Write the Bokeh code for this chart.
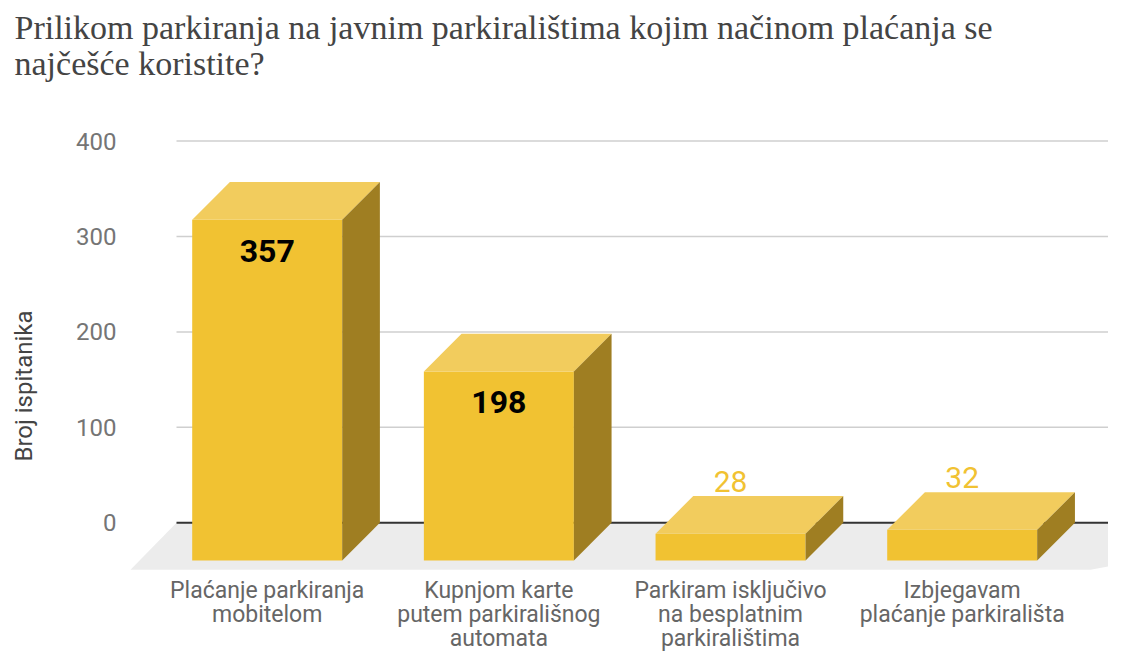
import numpy as np
from bokeh.plotting import figure
from bokeh.layouts import column
from bokeh.models import Range1d, FixedTicker
from bokeh.embed import file_html
from bokeh.resources import INLINE
from bokeh.core.properties import value

# ---------------- data ----------------
title_lines = ["Prilikom parkiranja na javnim parkiralištima kojim načinom plaćanja se",
               "najčešće koristite?"]
categories = ["Plaćanje parkiranja\nmobitelom",
              "Kupnjom karte\nputem parkirališnog\nautomata",
              "Parkiram isključivo\nna besplatnim\nparkiralištima",
              "Izbjegavam\nplaćanje parkirališta"]
counts = [357, 198, 28, 32]
y_ticks = [0, 100, 200, 300, 400]
y_axis_title = "Broj ispitanika"

# ---------------- layout / style ----------------
W, H = 1108, 651
HT = 100                          # height of the title strip
TITLE_BOTTOM = 82                 # bottom of the title text block (px)
FL, FT = 120, 120                 # frame left / top (px, page coords)
PX_X = 231.67                     # px per category step
PX_Y = 0.9543                     # px per respondent
ZERO_PX = 522.3                   # pixel row of value 0
CAT0_PX = 266.7                   # pixel column of first category
x_start = -(CAT0_PX - FL) / PX_X
x_end = x_start + (W - FL) / PX_X
y_end = (ZERO_PX - FT) / PX_Y
y_start = y_end - (H - FT) / PX_Y


def xpx(px):
    return x_start + (px - FL) / PX_X


def ypx(py):
    return (ZERO_PX - py) / PX_Y


HW = 75 / PX_X                    # half width of front face
DDX, DDY = 37.7 / PX_X, 37.6 / PX_Y   # 3D depth of bars
FDX, FDY = 46 / PX_X, 47 / PX_Y       # 3D depth of floor
WALL_L = xpx(176)                 # back-wall left edge
FLOOR_R = xpx(1090)               # floor front-right

C_FRONT, C_TOP, C_SIDE = "#f1c232", "#f2cc5d", "#9f7e22"
FONT = "Roboto"

# ---------------- title strip ----------------
tf = figure(width=W, height=HT, output_backend="svg", toolbar_location=None,
            x_range=Range1d(0, 1), y_range=Range1d(0, 1),
            x_axis_location=None, y_axis_location=None,
            min_border_left=FL, min_border_right=0, min_border_top=TITLE_BOTTOM,
            min_border_bottom=0)
tf.outline_line_color = None
tf.grid.visible = False
tf.background_fill_color = "white"
tf.border_fill_color = "white"
tf.title.text = "\n".join(title_lines)
tf.title.text_font = "Liberation Serif"
tf.title.text_font_size = "34px"
tf.title.text_font_style = "normal"
tf.title.text_color = "#444444"
tf.title.text_line_height = 0.98
tf.title.align = "left"
tf.title.vertical_align = "bottom"
tf.title.offset = -106
tf.title.standoff = 0

# ---------------- chart ----------------
p = figure(width=W, height=H - HT, output_backend="svg", toolbar_location=None,
           x_range=Range1d(x_start, x_end), y_range=Range1d(y_start, y_end),
           x_axis_location=None, min_border_left=FL, min_border_top=FT - HT,
           min_border_right=0, min_border_bottom=0)
p.outline_line_color = None
p.background_fill_color = "white"
p.border_fill_color = "white"
p.xgrid.visible = False
p.ygrid.visible = False

# y axis
yax = p.yaxis[0]
yax.ticker = FixedTicker(ticks=y_ticks)
yax.axis_line_color = None
yax.major_tick_line_color = None
yax.major_tick_out = 0
yax.major_tick_in = 0
yax.minor_tick_line_color = None
yax.minor_tick_out = 0
yax.major_label_text_font = FONT
yax.major_label_text_font_size = "24px"
yax.major_label_text_color = "#757575"
yax.major_label_standoff = 4
yax.axis_label = y_axis_title
yax.axis_label_text_font = FONT
yax.axis_label_text_font_size = "24px"
yax.axis_label_text_font_style = "normal"
yax.axis_label_text_color = "#444444"
yax.axis_label_standoff = 35

# floor
fx = [WALL_L, x_end + 1, FLOOR_R, WALL_L - FDX]
fy = [0, 0, -FDY, -FDY]
p.patch(fx, fy, fill_color="#ececec", line_color=None)

# gridlines
gl = [t for t in y_ticks if t != 0]
p.segment(x0=[WALL_L] * len(gl), x1=[x_end + 1] * len(gl), y0=gl, y1=gl,
          line_color="#cfcfcf", line_width=1.5)
p.segment(x0=[WALL_L], x1=[x_end + 1], y0=[0], y1=[0], line_color="#333333", line_width=2)

# bars
xs = np.arange(len(counts), dtype=float)
v = np.array(counts, dtype=float)
front_x = [[x - HW, x + HW, x + HW, x - HW] for x in xs]
front_y = [[-DDY, -DDY, c - DDY, c - DDY] for c in v]
top_x = [[x - HW, x + HW, x + HW + DDX, x - HW + DDX] for x in xs]
top_y = [[c - DDY, c - DDY, c, c] for c in v]
side_x = [[x + HW, x + HW + DDX, x + HW + DDX, x + HW] for x in xs]
side_y = [[-DDY, 0, c, c - DDY] for c in v]
p.patches(front_x, front_y, fill_color=C_FRONT, line_color=None)
p.patches(top_x, top_y, fill_color=C_TOP, line_color=None)
p.patches(side_x, side_y, fill_color=C_SIDE, line_color=None)

# value labels
inside = v >= 100
p.text(x=xs[inside], y=v[inside] - DDY - 31 / PX_Y, text=[str(int(c)) for c in v[inside]],
       text_font=value(FONT), text_font_size="32px", text_font_style="bold",
       text_color="#000000", text_align="center", text_baseline="alphabetic")
p.text(x=xs[~inside], y=v[~inside] + 14.5 / PX_Y, text=[str(int(c)) for c in v[~inside]],
       text_font=value(FONT), text_font_size="30px",
       text_color=C_FRONT, text_align="center", text_baseline="alphabetic")

# category labels
p.text(x=xs, y=[ypx(576.5)] * len(xs), text=categories,
       text_font=value(FONT), text_font_size="23px", text_color="#666666",
       text_align="center", text_baseline="top", text_line_height=0.89)

layout = column(tf, p, spacing=0)
open("out.html", "w").write(file_html(layout, INLINE))
